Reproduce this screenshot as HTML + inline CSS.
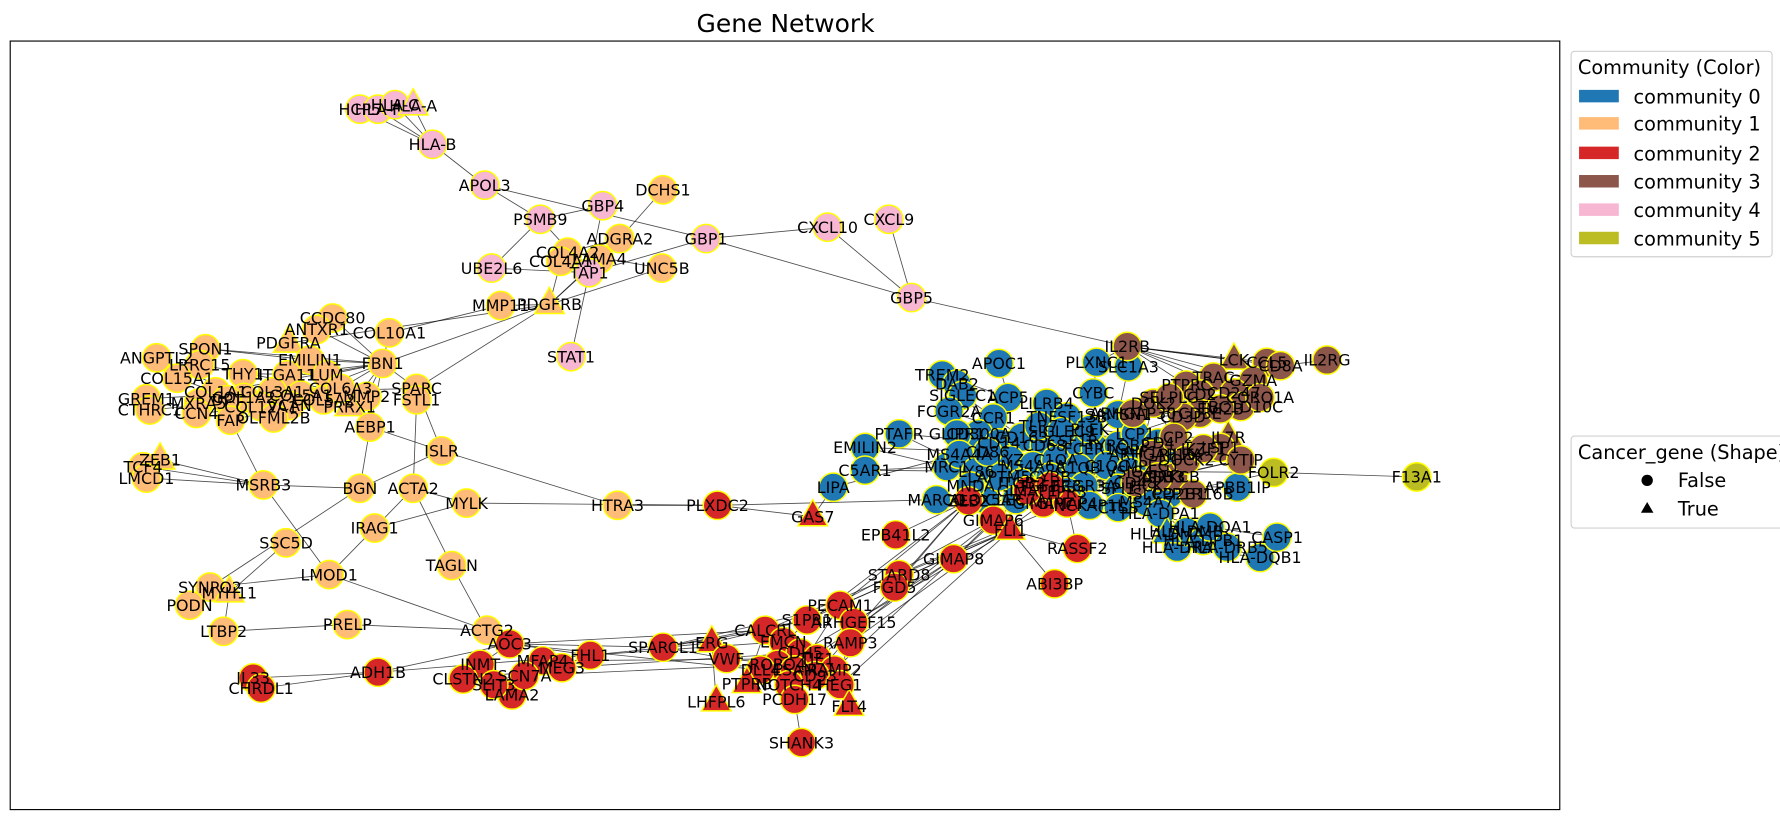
<!DOCTYPE html>
<html><head><meta charset="utf-8"><style>
html,body{margin:0;padding:0;background:#fff;}
svg{display:block;font-family:"Liberation Sans","DejaVu Sans",sans-serif;}
</style></head><body>
<svg id="chart" width="1780" height="820" viewBox="0 0 1568 722" xmlns="http://www.w3.org/2000/svg">
<rect x="0" y="0" width="1568" height="722" fill="#fff"/>
<text x="692" y="28" font-size="22" text-anchor="middle" font-family="DejaVu Sans, sans-serif">Gene Network</text>
<rect x="9" y="36" width="1365" height="677" fill="none" stroke="#000" stroke-width="1"/>
<g id="edges"></g>
<g id="nodes"></g>
<g id="labels" font-size="14" font-family="DejaVu Sans, sans-serif"></g>
<g font-family="DejaVu Sans, sans-serif" font-size="17">
<rect x="1384" y="45" width="177" height="181" rx="3" fill="#fff" stroke="#d0d0d0"/>
<text x="1390" y="65">Community (Color)</text>
<g><rect x="1391" y="79" width="35" height="11" fill="#1f77b4"/><text x="1439" y="91">community 0</text></g>
<g><rect x="1391" y="103" width="35" height="11" fill="#ffbb78"/><text x="1439" y="115">community 1</text></g>
<g><rect x="1391" y="129" width="35" height="11" fill="#d62728"/><text x="1439" y="141">community 2</text></g>
<g><rect x="1391" y="154" width="35" height="11" fill="#8c564b"/><text x="1439" y="166">community 3</text></g>
<g><rect x="1391" y="179" width="35" height="11" fill="#f7b6d2"/><text x="1439" y="191">community 4</text></g>
<g><rect x="1391" y="204" width="35" height="11" fill="#bcbd22"/><text x="1439" y="216">community 5</text></g>
</g>
<g font-family="DejaVu Sans, sans-serif" font-size="17">
<rect x="1384" y="384" width="200" height="81" rx="3" fill="#fff" stroke="#d0d0d0"/>
<text x="1390" y="404">Cancer_gene (Shape)</text>
<g><circle cx="1451" cy="423" r="5" fill="#000"/><text x="1478" y="429">False</text></g>
<g><polygon points="1451,442 1456.5,451.5 1445.5,451.5" fill="#000"/><text x="1478" y="454">True</text></g>
</g>
</svg>
<script>
const communityColors=["#1f77b4","#ffbb78","#d62728","#8c564b","#f7b6d2","#bcbd22"];
// [name, x, y, isCancerGene] in layout units
const comm0Nodes=[["APOC1",880,320,0],["TREM2",830,330,0],["DAB2",843,338,0],["SIGLEC1",848,348,0],["ACP5",888,350,0],["FCGR2A",836,362,0],["PTAFR",792,382,0],["CCR1",875,368,0],["CD300A",862,382,0],["LILRB4",922,355,0],["TNFSF13B",940,367,0],["GLIPR1",843,382,0],["EMILIN2",762,394,0],["C5AR1",762,414,0],["LIPA",734,429,0],["MARCO",825,440,0],["ALOX5AP",868,440,0],["MRC1",834,411,0],["MS4A4A",845,400,0],["PLXNC1",966,319,0],["SLC1A3",994,323,0],["CYBC",963,346,0],["SAMSN1",985,365,0],
["CD14",880,390,0],["CD163",900,385,0],["CD68",920,392,0],["CSF1R",945,388,0],["FCER1G",965,395,0],["TYROBP",985,392,0],["AIF1",1005,398,0],["LYZ",890,405,0],["MS4A6A",910,410,0],["C1QA",930,405,0],["C1QB",950,412,0],["C1QC",975,410,0],["VSIG4",995,415,0],["MPEG1",1015,410,0],["LAPTM5",880,420,0],["ITGB2",900,425,0],["CYBB",925,420,0],["FCGR3A",955,428,0],["SPI1",985,430,0],["HCK",1010,428,0],["LY86",860,415,0],["CD86",870,398,0],["CD53",1025,420,0],["PLEK",960,378,0],["LCP1",1000,382,0],["TLR7",915,375,0],["MNDA",855,428,0],["CLEC7A",895,440,0],["NCKAP1L",960,445,0],["CTSS",985,447,0],["MS4A7",1010,442,0],["FPR3",940,433,0],["SLCO2B1",1030,435,0],["PILRA",1040,400,0],["SIGLEC9",935,380,0],["CD4",1020,390,0],
["APBB1IP",1090,429,0],["HLA-DPA1",1022,452,0],["HLA-DRA",1037,482,0],["HLA-DMB",1045,468,0],["HLA-DPB1",1060,476,0],["HLA-DQA1",1066,464,0],["HLA-DRB5",1081,482,0],["HLA-DQB1",1110,491,0],["CASP1",1125,473,0],["HLA-DMA",1028,470,1]];
const comm1Nodes=[["DCHS1",584,167,0],["ADGRA2",546,210,0],["COL4A2",500,222,0],["COL4A1",494,230,0],["LAMA4",528,228,0],["UNC5B",583,236,0],["MMP11",441,269,0],["PDGFRB",484,268,1],["CCDC80",293,280,0],["ANTXR1",279,290,0],["COL10A1",343,293,0],["PDGFRA",254,302,1],["EMILIN1",273,317,0],["FBN1",337,320,0],["SPON1",181,307,0],["ANGPTL2",138,315,0],["LRRC15",176,321,0],["COL15A1",156,333,0],["THY1",214,329,0],["ITGA11",253,330,0],["LUM",288,330,0],["SPARC",367,342,0],["MMP2",323,349,0],["FSTL1",367,352,0],["PRRX1",308,358,1],["COL1A1",190,345,0],["COL1A2",215,350,0],["COL3A1",240,345,0],["COL5A1",265,348,0],["COL5A2",285,352,0],["COL6A3",300,342,0],["MXRA5",175,355,0],["COL12A1",230,358,0],["VCAN",255,357,0],["DPT",200,352,0],["GREM1",129,351,0],["CTHRC1",132,361,0],["CCN4",173,364,0],["FAP",203,370,0],["OLFML2B",241,368,0],["AEBP1",326,376,0],["ISLR",389,397,0],["ZEB1",141,405,1],["TCF4",126,411,0],["LMCD1",129,421,0],["MSRB3",232,427,0],["BGN",317,430,0],["ACTA2",364,430,0],["MYLK",411,443,0],["IRAG1",330,465,0],["HTRA3",544,445,0],["SSC5D",252,478,0],["TAGLN",398,498,0],["LMOD1",290,506,0],["SYNPO2",185,517,0],["MYH11",202,522,1],["PODN",167,533,0],["LTBP2",197,556,0],["PRELP",306,550,0],["ACTG2",429,555,0]];
const comm2Nodes=[["PLXDC2",632,445,0],["GAS7",716,455,1],["EPB41L2",789,471,0],["AOC3",449,567,0],["INMT",423,585,0],["CLSTN2",408,598,0],["LAMA2",451,612,0],["SLIT3",435,603,0],["MFAP4",478,582,0],["SCN7A",462,595,0],["MEG3",495,588,0],["FHL1",520,577,0],["ADH1B",333,592,0],["IL33",223,597,0],["CHRDL1",230,606,0],["SPARCL1",584,570,0],["ERG",627,566,1],["VWF",640,580,0],["CALCRL",674,555,0],["S1PR1",711,546,0],["PECAM1",740,533,0],["ARHGEF15",752,548,0],["RAMP3",749,566,0],["EMCN",690,565,0],["CDH5",705,575,0],["TIE1",720,580,0],["ROBO4",685,585,0],["DLL4",670,590,0],["RAMP2",735,590,0],["ESAM",700,590,0],["CD93",718,595,0],["NOTCH4",695,603,0],["PTPRB",658,602,1],["LHFPL6",631,618,1],["PCDH17",700,616,0],["HEG1",740,603,0],["FLT4",748,622,1],["SHANK3",706,654,0],["STARD8",792,506,0],["FGD5",788,517,0],["ZEB2",853,441,0],["GIMAP6",875,458,0],["FLI1",890,467,1],["GIMAP8",840,492,0],["RASSF2",949,483,0],["ABI3BP",929,514,0],["GIMAP7",919,443,0],["GIMAP4",940,443,0],["GIMAP1",905,432,0],["TGFBR3",925,428,0]];
const comm3Nodes=[["IL2RB",993,305,0],["LCK",1087,317,1],["CCL5",1116,319,0],["CD8A",1128,322,0],["IL2RG",1169,317,0],["TRAC",1069,332,0],["PTPRC",1045,339,0],["CD2",1057,347,0],["GZMA",1104,335,0],["CD247",1087,346,0],["TBC1D10C",1093,358,0],["DOK2",1016,355,0],["CORO1A",1110,350,0],["CD3E",1057,364,0],["CD3D",1042,367,0],["ARHGAP30",998,364,0],["LCP2",1034,385,0],["IL7R",1082,385,1],["LSP1",1075,394,0],["CYTIP",1093,405,0],["PRKCB",1034,420,0],["PPP1R16B",1051,435,0],["ARHGAP15",1015,400,0],["DOCK2",1045,405,0],["SASH3",1020,420,0],["IKZF1",1060,395,0],["EVI2B",1075,360,0],["SELPLG",1030,350,0],["CD48",1000,425,0]];
const comm4Nodes=[["HCP5",317,96,0],["HLA-F",333,96,0],["HLA-C",348,92,0],["HLA-A",364,93,1],["HLA-B",381,127,0],["APOL3",427,163,0],["GBP4",531,181,0],["PSMB9",476,193,0],["UBE2L6",433,236,0],["TAP1",519,240,0],["GBP1",622,210,0],["CXCL10",729,200,0],["CXCL9",783,193,0],["GBP5",803,262,0],["STAT1",503,314,0]];
const comm5Nodes=[["FOLR2",1122,416,0],["F13A1",1248,420,0]];
const edgesPink=[["HCP5","HLA-B"],["HLA-F","HLA-B"],["HLA-C","HLA-B"],["HLA-A","HLA-B"],["HLA-B","APOL3"],["APOL3","GBP1"],["APOL3","PSMB9"],["PSMB9","GBP4"],["PSMB9","UBE2L6"],["PSMB9","TAP1"],["GBP4","TAP1"],["GBP1","CXCL10"],["CXCL10","GBP5"],["CXCL9","GBP5"],["GBP1","GBP5"],["GBP1","TAP1"],["TAP1","STAT1"],["GBP5","IL2RB"],["UBE2L6","TAP1"]];
const edgesOrange=[["DCHS1","ADGRA2"],["ADGRA2","COL4A2"],["ADGRA2","PDGFRB"],["COL4A1","LAMA4"],["COL4A1","PDGFRB"],["LAMA4","PDGFRB"],["UNC5B","PDGFRB"],["UNC5B","COL4A2"],["MMP11","PDGFRB"],["MMP11","COL10A1"],["PDGFRB","FBN1"],["PDGFRB","SPARC"],["PDGFRB","PDGFRA"],["CCDC80","FBN1"],["ANTXR1","FBN1"],["EMILIN1","FBN1"],["FBN1","SPARC"],["FBN1","AEBP1"],["SPON1","FBN1"],["LUM","FBN1"],["ITGA11","FBN1"],["COL5A1","FBN1"],["COL1A1","FBN1"],["COL3A1","SPARC"],["COL6A3","FBN1"],["MMP2","FBN1"],["PRRX1","FBN1"],["COL10A1","FBN1"],["ISLR","AEBP1"],["ISLR","HTRA3"],["ISLR","SPARC"],["ISLR","BGN"],["MSRB3","ZEB1"],["MSRB3","TCF4"],["MSRB3","LMCD1"],["ZEB1","LMCD1"],["MSRB3","BGN"],["MSRB3","FAP"],["BGN","AEBP1"],["BGN","SYNPO2"],["ACTA2","MYLK"],["ACTA2","IRAG1"],["ACTA2","TAGLN"],["ACTA2","FSTL1"],["IRAG1","MYLK"],["IRAG1","LMOD1"],["MYLK","PLXDC2"],["LMOD1","SYNPO2"],["LMOD1","ACTG2"],["LMOD1","MSRB3"],["PRELP","LTBP2"],["PRELP","ACTG2"],["TAGLN","ACTG2"],["ACTG2","AOC3"],["SYNPO2","MYH11"],["MYH11","PODN"],["MYH11","LTBP2"],["SSC5D","MYH11"],["COL15A1","COL1A1"],["ANGPTL2","COL1A2"],["GREM1","COL3A1"],["CTHRC1","COL5A1"],["CCN4","VCAN"],["FAP","COL5A2"],["OLFML2B","COL6A3"],["THY1","LUM"],["LRRC15","MMP2"],["MXRA5","PRRX1"],["DPT","COL12A1"],["SPON1","EMILIN1"],["HTRA3","PLXDC2"]];
const edgesRed=[["PLXDC2","GAS7"],["PLXDC2","MARCO"],["GAS7","LIPA"],["AOC3","SPARCL1"],["AOC3","FHL1"],["AOC3","INMT"],["ADH1B","IL33"],["ADH1B","CHRDL1"],["ADH1B","AOC3"],["ADH1B","FHL1"],["LAMA2","SCN7A"],["CLSTN2","MEG3"],["SLIT3","MFAP4"],["SPARCL1","VWF"],["SPARCL1","CALCRL"],["SPARCL1","PECAM1"],["SPARCL1","S1PR1"],["FHL1","ERG"],["FHL1","EMCN"],["MEG3","CDH5"],["MFAP4","TIE1"],["SCN7A","ROBO4"],["AOC3","CALCRL"],["AOC3","DLL4"],["PECAM1","ZEB2"],["PECAM1","FLI1"],["S1PR1","FLI1"],["S1PR1","GIMAP6"],["ARHGEF15","GIMAP8"],["RAMP3","GIMAP7"],["CALCRL","GIMAP4"],["EMCN","ZEB2"],["CDH5","FLI1"],["TIE1","GIMAP6"],["RAMP2","GIMAP1"],["HEG1","FLI1"],["CD93","ZEB2"],["ESAM","GIMAP8"],["STARD8","FLI1"],["FGD5","ZEB2"],["FLI1","ABI3BP"],["FLI1","RASSF2"],["GIMAP4","RASSF2"],["SHANK3","PCDH17"],["PTPRB","CALCRL"],["LHFPL6","ERG"],["NOTCH4","PECAM1"],["FLT4","PECAM1"],["VWF","RAMP2"],["ERG","S1PR1"],["EPB41L2","ZEB2"],["ZEB2","MARCO"],["GIMAP8","GIMAP6"],["TGFBR3","GIMAP1"]];
const edgesBlue=[["APOC1","ACP5"],["TREM2","ACP5"],["DAB2","CD14"],["SIGLEC1","CD163"],["FCGR2A","CD68"],["PTAFR","CD14"],["PTAFR","LY86"],["CCR1","CSF1R"],["LILRB4","C1QA"],["EMILIN2","MRC1"],["EMILIN2","CD86"],["C5AR1","LY86"],["C5AR1","MRC1"],["LIPA","MS4A4A"],["MARCO","ALOX5AP"],["PLXNC1","CYBC"],["SLC1A3","SAMSN1"],["SLC1A3","IL2RB"],["PLXNC1","IL2RB"],["CD14","TYROBP"],["CD163","AIF1"],["CD68","FCER1G"],["CSF1R","CD4"],["LYZ","C1QC"],["MS4A6A","VSIG4"],["C1QA","MPEG1"],["C1QB","HCK"],["LAPTM5","SPI1"],["ITGB2","CD53"],["CYBB","SLCO2B1"],["FCGR3A","MS4A7"],["PLEK","LCP1"],["TLR7","PILRA"],["MNDA","CTSS"],["CLEC7A","NCKAP1L"],["FPR3","CD48"],["SIGLEC9","DOK2"],["TNFSF13B","ARHGAP30"],["CD86","SASH3"],["LY86","PRKCB"],["GLIPR1","LCP2"],["CD300A","IKZF1"],["HCK","APBB1IP"],["SPI1","HLA-DPA1"],["MS4A7","HLA-DMB"],["CTSS","HLA-DQA1"],["HLA-DPA1","HLA-DRA"],["HLA-DMB","HLA-DRB5"],["HLA-DQA1","CASP1"],["HLA-DPB1","HLA-DQB1"],["HLA-DRA","HLA-DQB1"],["HLA-DMA","HLA-DRB5"],["CD53","CYTIP"],["SLCO2B1","FOLR2"],["PILRA","LSP1"],["CD4","IL7R"],["VSIG4","FOLR2"],["MPEG1","CYTIP"],["FOLR2","F13A1"],["ALOX5AP","GIMAP1"],["MRC1","TGFBR3"]];
const edgesBrown=[["IL2RB","LCK"],["IL2RB","CCL5"],["IL2RB","CD8A"],["IL2RB","TRAC"],["IL2RB","PTPRC"],["IL2RB","GZMA"],["IL2RB","CD247"],["CD8A","IL2RG"],["LCK","CD2"],["TRAC","CD3E"],["PTPRC","DOK2"],["CD2","CORO1A"],["GZMA","TBC1D10C"],["CD247","CD3D"],["DOK2","LCP2"],["CD3E","ARHGAP30"],["EVI2B","SELPLG"],["LCP2","IL7R"],["LCP2","LSP1"],["DOCK2","CYTIP"],["PRKCB","PPP1R16B"],["ARHGAP15","IKZF1"],["SASH3","LSP1"],["PTPRC","SELPLG"],["CD3D","CD2"]];
const edgesDense=[["CD14","CD4"],["CD68","LCP1"],["C1QA","DOCK2"],["C1QB","ARHGAP15"],["LYZ","SASH3"],["CYBB","PRKCB"],["ITGB2","CD48"],["FCER1G","IKZF1"],["TYROBP","SELPLG"],["AIF1","DOK2"],["LAPTM5","PPP1R16B"],["MS4A6A","CD3D"],["CD163","ARHGAP30"],["TLR7","CD3E"],["C1QC","LSP1"],["SPI1","CYTIP"],["HCK","IL7R"],["FPR3","MPEG1"],["CSF1R","VSIG4"],["ALOX5AP","GIMAP7"],["CLEC7A","GIMAP4"],["MNDA","TGFBR3"]];

const x0=0,y0=0;
function xScale(v){return x0+v;}
function yScale(v){return y0+v;}
const NS="http://www.w3.org/2000/svg";
const pos={};
const allGroups=[comm0Nodes,comm1Nodes,comm2Nodes,comm3Nodes,comm4Nodes,comm5Nodes];
allGroups.forEach(g=>g.forEach(n=>{pos[n[0]]=[xScale(n[1]),yScale(n[2])];}));
const eg=document.getElementById("edges");
[edgesPink,edgesOrange,edgesRed,edgesBlue,edgesBrown,edgesDense].forEach(list=>list.forEach(e=>{
  const a=pos[e[0]],b=pos[e[1]]; if(!a||!b)return;
  const l=document.createElementNS(NS,"line");
  l.setAttribute("x1",a[0]);l.setAttribute("y1",a[1]);l.setAttribute("x2",b[0]);l.setAttribute("y2",b[1]);
  l.setAttribute("stroke","#000");l.setAttribute("stroke-opacity","0.7");l.setAttribute("stroke-width","0.75");
  
  
  eg.appendChild(l);
}));
const ng=document.getElementById("nodes"),lg=document.getElementById("labels");
allGroups.forEach((g,ci)=>g.forEach(n=>{
  const p=pos[n[0]];let el;
  if(n[3]){el=document.createElementNS(NS,"polygon");
    el.setAttribute("points",p[0]+","+(p[1]-15)+" "+(p[0]+13)+","+(p[1]+8)+" "+(p[0]-13)+","+(p[1]+8));}
  else{el=document.createElementNS(NS,"circle");el.setAttribute("cx",p[0]);el.setAttribute("cy",p[1]);el.setAttribute("r","12.5");}
  el.setAttribute("fill",communityColors[ci]);el.setAttribute("stroke","#ffff00");el.setAttribute("stroke-width","1.3");
  
  
  ng.appendChild(el);
  const t=document.createElementNS(NS,"text");
  t.setAttribute("x",p[0]);t.setAttribute("y",p[1]+5);t.setAttribute("text-anchor","middle");
  t.textContent=n[0];
  
  
  lg.appendChild(t);
}));
</script>
</body></html>
